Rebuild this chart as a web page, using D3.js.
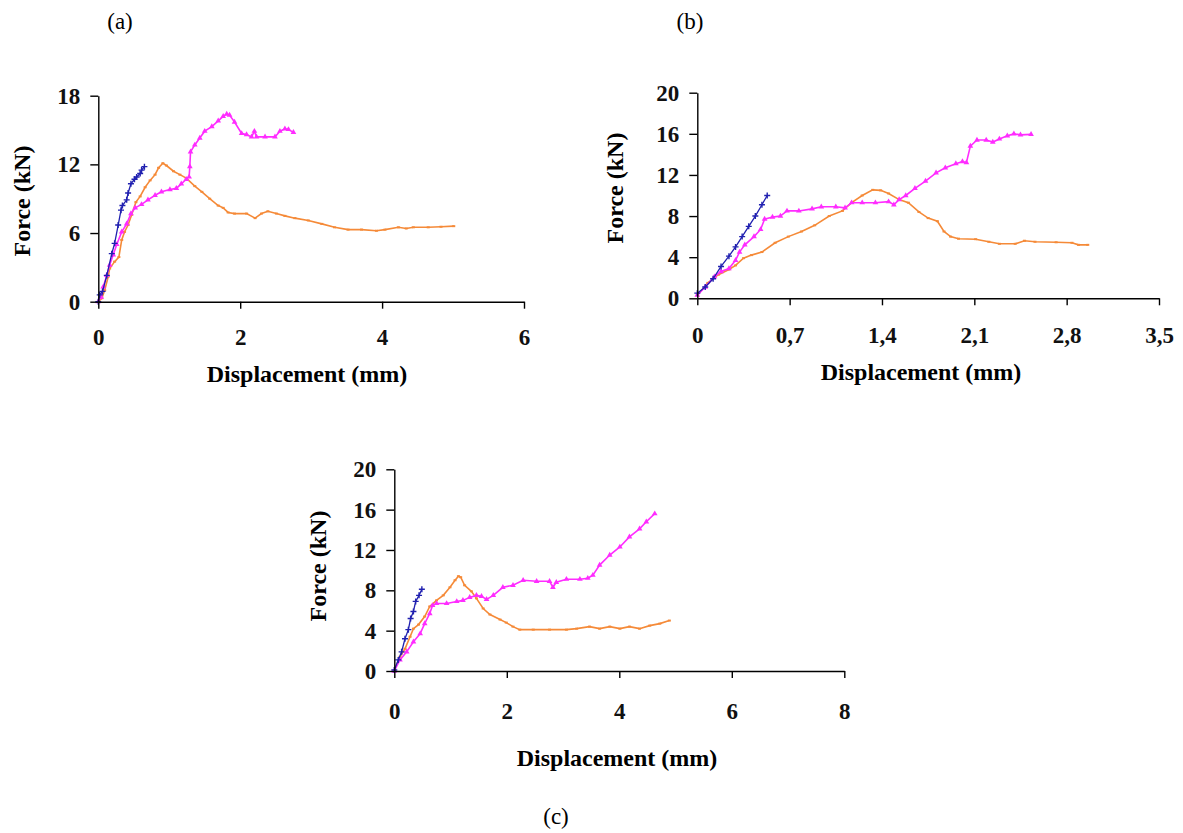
<!DOCTYPE html>
<html>
<head>
<meta charset="utf-8">
<script src="https://cdn.jsdelivr.net/npm/d3@7"></script>
<style>
  body { margin: 0; background: #fff; }
  svg { display: block; }
  .tick text { font-family: 'Liberation Serif', 'Times New Roman', serif; font-weight: bold; font-size: 23px; fill: #111; }
  .title { font-family: 'Liberation Serif', 'Times New Roman', serif; font-weight: bold; font-size: 24px; fill: #000; }
  .panel-label { font-family: 'Liberation Serif', 'Times New Roman', serif; font-size: 23px; fill: #000; }
</style>
</head>
<body>
<div id="chart"></div>
<script>
// data
const panelLabels = ['(a)', '(b)', '(c)'];
const xTitle = 'Displacement (mm)';
const yTitle = 'Force (kN)';

const aXTicks = [0, 2, 4, 6];
const aYTicks = [0, 6, 12, 18];
const bXTicks = [0, 0.7, 1.4, 2.1, 2.8, 3.5];
const bYTicks = [0, 4, 8, 12, 16, 20];
const cXTicks = [0, 2, 4, 6, 8];
const cYTicks = [0, 4, 8, 12, 16, 20];

const aBlue = [[0,0],[0.02,0.6],[0.06,0.9],[0.12,2.3],[0.19,4.2],[0.23,5.1],[0.28,6.7],[0.32,8.0],[0.34,8.4],[0.40,8.9],[0.42,9.5],[0.46,10.3],[0.51,10.7],[0.54,10.9],[0.59,11.2],[0.61,11.5],[0.65,11.8]];
const aOrange = [[0,0],[0.05,0.3],[0.09,1.0],[0.14,2.2],[0.16,2.9],[0.23,3.5],[0.29,3.9],[0.33,5.4],[0.37,6.1],[0.42,6.7],[0.47,7.6],[0.53,8.7],[0.59,9.2],[0.66,10.0],[0.73,10.6],[0.80,11.1],[0.85,11.7],[0.91,12.1],[0.96,11.9],[1.06,11.4],[1.15,11.1],[1.24,10.8],[1.36,10.1],[1.46,9.6],[1.57,9.0],[1.69,8.4],[1.76,8.2],[1.83,7.8],[1.92,7.7],[2.09,7.7],[2.21,7.3],[2.30,7.7],[2.39,7.9],[2.51,7.7],[2.63,7.5],[2.77,7.3],[2.96,7.1],[3.15,6.8],[3.33,6.5],[3.52,6.3],[3.71,6.3],[3.92,6.2],[4.04,6.3],[4.23,6.5],[4.34,6.4],[4.44,6.5],[4.65,6.5],[4.83,6.55],[5.01,6.6]];
const aMagenta = [[0,0],[0.04,0.4],[0.07,1.3],[0.12,2.3],[0.16,3.2],[0.21,4.1],[0.26,5.0],[0.33,6.1],[0.40,6.8],[0.46,7.7],[0.52,8.2],[0.61,8.5],[0.70,8.9],[0.80,9.3],[0.89,9.6],[1.01,9.8],[1.10,9.9],[1.17,10.3],[1.24,10.7],[1.28,10.9],[1.29,11.8],[1.30,13.1],[1.36,13.7],[1.43,14.3],[1.50,14.9],[1.60,15.3],[1.69,15.8],[1.76,16.2],[1.81,16.4],[1.85,16.3],[1.92,15.7],[2.02,14.7],[2.09,14.6],[2.16,14.4],[2.20,14.9],[2.23,14.4],[2.35,14.4],[2.49,14.4],[2.56,14.9],[2.63,15.1],[2.68,15.05],[2.75,14.8]];

const bBlue = [[0,0.5],[0.06,1.1],[0.12,1.9],[0.18,3.1],[0.24,4.1],[0.29,5.0],[0.34,6.0],[0.39,7.0],[0.44,8.0],[0.49,9.1],[0.53,10.0]];
const bOrange = [[0,0.3],[0.08,1.5],[0.16,2.3],[0.24,2.8],[0.29,3.2],[0.35,3.9],[0.41,4.2],[0.49,4.5],[0.59,5.4],[0.69,6.0],[0.79,6.5],[0.89,7.1],[1.00,8.0],[1.10,8.5],[1.17,9.3],[1.25,10.0],[1.33,10.55],[1.39,10.5],[1.45,10.2],[1.53,9.6],[1.60,9.3],[1.68,8.4],[1.75,7.8],[1.82,7.5],[1.87,6.5],[1.92,6.0],[1.98,5.8],[2.11,5.75],[2.21,5.5],[2.29,5.3],[2.41,5.3],[2.48,5.6],[2.56,5.5],[2.72,5.45],[2.84,5.4],[2.89,5.2],[2.96,5.2]];
const bMagenta = [[0,0.3],[0.06,1.1],[0.13,2.1],[0.18,2.6],[0.24,2.9],[0.29,3.7],[0.32,4.5],[0.36,5.2],[0.43,6.0],[0.48,6.7],[0.51,7.7],[0.57,7.9],[0.63,8.0],[0.68,8.5],[0.77,8.5],[0.87,8.7],[0.94,8.9],[1.05,8.9],[1.12,8.8],[1.17,9.3],[1.25,9.3],[1.35,9.3],[1.45,9.4],[1.49,9.1],[1.53,9.6],[1.58,10.0],[1.65,10.7],[1.73,11.4],[1.81,12.2],[1.88,12.7],[1.96,13.1],[2.01,13.3],[2.04,13.2],[2.07,14.8],[2.12,15.4],[2.19,15.4],[2.24,15.2],[2.29,15.5],[2.35,15.8],[2.40,16.0],[2.45,15.9],[2.53,15.95]];

const cBlue = [[0,0.1],[0.07,1.1],[0.13,1.9],[0.19,3.2],[0.25,4.1],[0.29,5.2],[0.34,5.9],[0.38,6.9],[0.44,7.5],[0.49,8.1]];
const cOrange = [[0,0.1],[0.10,1.4],[0.19,2.2],[0.28,3.4],[0.34,4.2],[0.43,4.6],[0.54,5.4],[0.63,6.4],[0.75,7.0],[0.87,7.5],[0.99,8.3],[1.08,9.0],[1.14,9.4],[1.18,9.3],[1.25,8.5],[1.37,7.9],[1.46,7.2],[1.58,6.2],[1.70,5.6],[1.88,5.1],[1.99,4.8],[2.11,4.4],[2.23,4.1],[2.47,4.1],[2.76,4.1],[3.06,4.1],[3.24,4.2],[3.47,4.4],[3.65,4.2],[3.83,4.4],[4.01,4.2],[4.18,4.4],[4.36,4.2],[4.54,4.5],[4.72,4.7],[4.89,5.0]];
const cMagenta = [[0,0],[0.10,1.1],[0.22,1.9],[0.34,2.9],[0.46,3.7],[0.54,4.7],[0.63,5.7],[0.68,6.5],[0.75,6.7],[0.93,6.7],[1.11,6.9],[1.22,7.0],[1.34,7.3],[1.46,7.5],[1.55,7.4],[1.64,7.1],[1.76,7.5],[1.93,8.3],[2.11,8.5],[2.29,9.0],[2.53,8.9],[2.76,8.9],[2.82,8.3],[2.88,8.8],[3.06,9.1],[3.30,9.1],[3.44,9.2],[3.53,9.5],[3.65,10.5],[3.83,11.5],[4.01,12.3],[4.18,13.3],[4.36,14.1],[4.48,14.8],[4.63,15.6]];

const colors = { blue: '#2020b0', orange: '#f58a38', magenta: '#ff2cff' };

// layout
const panels = [
  { label: panelLabels[0], xTicks: aXTicks, yTicks: aYTicks, series: [aOrange, aMagenta, aBlue],
    left: 98.3, right: 524, bottom: 301.7, top: 95.7, labelX: 120, labelY: 29,
    xLabelDy: 43, titleX: 307, titleY: 382, yTitleX: 22, yTitleY: 201 },
  { label: panelLabels[1], xTicks: bXTicks, yTicks: bYTicks, series: [bOrange, bMagenta, bBlue],
    left: 697.3, right: 1159, bottom: 298.3, top: 92.7, labelX: 690, labelY: 29,
    xLabelDy: 45, titleX: 921, titleY: 380, yTitleX: 615, yTitleY: 188 },
  { label: panelLabels[2], xTicks: cXTicks, yTicks: cYTicks, series: [cOrange, cMagenta, cBlue],
    left: 394.3, right: 844.3, bottom: 671, top: 469.3, labelX: 556, labelY: 824,
    xLabelDy: 48, titleX: 617, titleY: 766, yTitleX: 318, yTitleY: 566 }
];
const seriesKeys = ['orange', 'magenta', 'blue'];

const svg = d3.select('#chart').append('svg').attr('width', 1183).attr('height', 833);

function fmt(d) { return String(d).replace('.', ','); }

panels.forEach(function(p) {
  const g = svg.append('g');
  const x = d3.scaleLinear().domain([0, d3.max(p.xTicks)]).range([p.left, p.right]);
  const y = d3.scaleLinear().domain([0, d3.max(p.yTicks)]).range([p.bottom, p.top]);

  // series
  p.series.forEach(function(data, i) {
    const key = seriesKeys[i];
    const line = d3.line().x(d => x(d[0])).y(d => y(d[1]));
    g.append('path').datum(data)
      .attr('d', line)
      .attr('fill', 'none')
      .attr('stroke', colors[key])
      .attr('stroke-width', key === 'blue' ? 1.3 : 1.6);

    const m = g.append('g').selectAll('path').data(data).enter().append('path')
      .attr('transform', d => 'translate(' + x(d[0]) + ',' + y(d[1]) + ')');
    if (key === 'blue') {
      m.attr('d', 'M-3,0H3M0,-3V3').attr('stroke', colors.blue).attr('stroke-width', 1.4).attr('fill', 'none');
    } else if (key === 'magenta') {
      m.attr('d', d3.symbol().type(d3.symbolTriangle).size(14)).attr('fill', colors.magenta);
    } else {
      m.attr('d', 'M-1.5,-1H1.5V1H-1.5Z').attr('fill', colors.orange);
    }
  });

  // axes
  const xAxis = g.append('g')
    .attr('transform', 'translate(0,' + p.bottom + ')')
    .call(d3.axisBottom(x).tickValues(p.xTicks).tickSize(7).tickSizeOuter(0).tickFormat(fmt));
  xAxis.selectAll('.tick text').attr('y', p.xLabelDy).attr('dy', null);

  g.append('g')
    .attr('transform', 'translate(' + p.left + ',0)')
    .call(d3.axisLeft(y).tickValues(p.yTicks).tickSize(8).tickSizeOuter(0).tickPadding(10));

  g.selectAll('.domain, .tick line').attr('stroke', '#000').attr('stroke-width', 1.4);

  // titles
  g.append('text').attr('class', 'title')
    .attr('x', p.titleX).attr('y', p.titleY)
    .attr('text-anchor', 'middle')
    .text(xTitle);
  g.append('text').attr('class', 'title')
    .attr('transform', 'translate(' + p.yTitleX + ',' + p.yTitleY + ') rotate(-90)')
    .attr('text-anchor', 'middle')
    .attr('dy', '0.35em')
    .text(yTitle);

  svg.append('text').attr('class', 'panel-label')
    .attr('x', p.labelX).attr('y', p.labelY)
    .attr('text-anchor', 'middle')
    .text(p.label);
});
</script>
</body>
</html>
